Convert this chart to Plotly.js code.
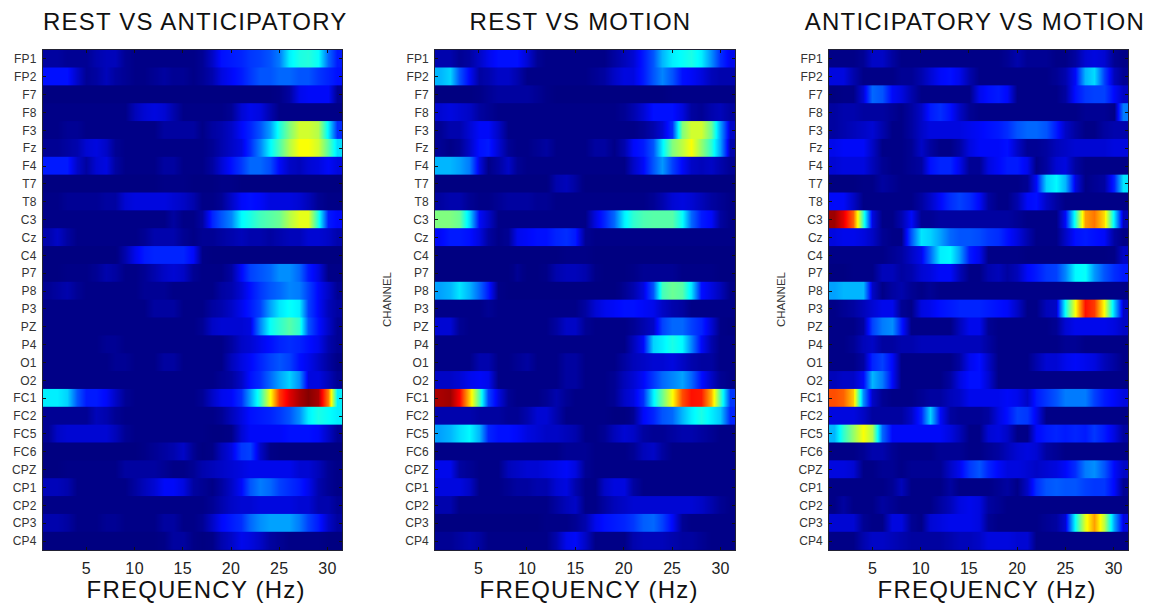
<!DOCTYPE html>
<html><head><meta charset="utf-8">
<script src="https://cdn.plot.ly/plotly-3.0.1.min.js"></script>
<style>html,body{margin:0;padding:0;background:#fff}#c{width:1151px;height:606px}
.xtick text{letter-spacing:.5px}.ytick text{letter-spacing:.2px}</style>
</head><body><div id="c"></div>
<script>
const channels=["FP1","FP2","F7","F8","F3","Fz","F4","T7","T8","C3","Cz","C4","P7","P8","P3","PZ","P4","O1","O2","FC1","FC2","FC5","FC6","CPZ","CP1","CP2","CP3","CP4"];
const frequencies=[1,2,3,4,5,6,7,8,9,10,11,12,13,14,15,16,17,18,19,20,21,22,23,24,25,26,27,28,29,30,31];
const freqTicks=[5,10,15,20,25,30];
const panelTitles=["REST VS ANTICIPATORY","REST VS MOTION","ANTICIPATORY VS MOTION"];
const restVsAnticipatory=[
[5,5,4,4,4,6,7,7,4,3,3,3,3,3,3,3,4,8,13,14,15,17,18,20,24,36,40,41,38,22,14],
[13,13,13,8,4,5,7,5,4,3,3,4,5,4,4,3,4,6,10,12,14,17,20,20,22,22,20,20,17,15,13],
[2,2,2,2,2,2,2,2,2,2,2,2,2,2,2,2,2,2,2,2,2,2,2,2,3,5,11,12,12,12,4],
[3,3,3,3,3,3,3,3,3,7,9,10,9,6,3,3,3,3,3,4,9,11,10,6,3,3,3,3,3,3,3],
[3,3,4,4,3,3,3,3,3,3,3,3,5,5,5,5,3,5,6,8,12,15,20,28,40,50,58,58,55,36,16],
[4,4,5,6,9,10,8,4,3,3,3,3,3,3,3,3,3,4,6,8,10,16,25,37,45,55,62,62,58,46,34],
[14,14,14,8,5,9,10,5,3,3,3,3,5,5,3,3,3,5,9,13,17,22,22,19,12,8,7,9,10,12,10],
[2,2,2,2,2,2,2,2,2,2,2,2,3,3,3,2,2,2,3,3,2,2,2,2,2,2,2,2,2,2,2],
[3,3,4,4,4,4,5,5,9,10,10,10,10,9,8,6,3,3,4,8,12,13,12,10,10,10,9,7,4,3,3],
[3,3,3,3,3,3,3,3,3,3,3,3,3,5,3,3,5,15,20,25,37,40,44,46,48,55,60,60,40,14,12],
[6,8,5,3,3,3,3,3,3,3,4,6,6,6,4,3,4,4,5,6,7,6,6,5,6,7,7,9,9,8,6],
[2,2,2,2,2,2,2,2,6,11,14,15,15,15,15,12,3,2,2,2,2,2,2,2,2,2,2,2,2,2,2],
[2,2,3,3,3,4,6,5,3,3,4,6,8,9,8,4,3,3,3,5,12,18,20,22,26,26,22,14,10,3,3],
[4,5,6,4,3,3,3,3,3,3,4,4,4,3,3,3,3,3,5,6,9,13,17,20,22,25,24,18,12,8,4],
[3,3,3,3,3,3,3,3,3,3,3,5,5,5,3,3,3,5,6,8,11,14,18,28,35,38,36,18,12,7,5],
[3,3,3,3,3,3,3,3,3,3,3,3,3,3,3,3,4,8,9,9,9,10,25,38,42,46,42,20,13,8,4],
[3,3,3,3,3,3,4,4,3,3,3,3,3,3,3,3,3,3,3,5,8,9,11,13,15,16,15,13,11,6,4],
[3,3,3,3,3,3,3,4,4,3,3,3,5,5,3,3,3,3,3,7,10,12,15,18,20,18,13,11,8,5,3],
[3,3,3,3,3,3,3,3,3,3,3,3,3,3,3,3,3,3,4,5,8,13,16,22,28,33,26,10,10,7,4],
[36,36,33,20,14,14,12,8,4,3,3,3,3,3,3,3,4,8,11,12,16,28,42,62,82,90,95,98,95,75,36],
[4,4,4,4,4,7,6,4,3,3,3,3,3,3,3,3,3,3,4,7,10,13,14,15,17,20,26,36,40,38,36],
[4,8,9,9,9,9,9,7,4,3,3,3,3,3,3,3,3,2,2,3,9,12,12,12,12,13,13,13,12,8,4],
[2,2,2,2,2,2,2,2,2,2,3,4,5,6,8,4,2,3,7,10,17,18,8,3,2,2,2,2,2,2,2],
[2,2,3,3,3,3,3,3,5,5,5,5,4,3,3,4,6,7,8,9,10,11,11,11,11,11,9,9,7,4,3],
[7,7,6,3,3,3,3,3,3,5,7,9,12,12,10,5,4,3,5,8,12,20,24,22,18,16,14,11,6,4,3],
[3,3,3,3,3,3,3,3,3,3,3,3,3,3,3,3,3,4,6,8,9,9,10,10,10,10,9,9,6,6,4],
[6,6,5,3,3,3,4,4,3,3,3,3,5,5,3,3,4,8,12,14,16,22,26,28,28,28,24,18,14,8,5],
[2,2,2,2,2,2,2,2,2,2,2,2,3,5,5,3,2,3,6,8,11,10,8,5,4,3,3,3,3,2,2]
];
const restVsMotion=[
[6,6,4,5,8,11,13,13,13,9,4,3,3,3,3,3,3,3,5,7,9,14,20,30,36,38,40,36,26,16,11],
[30,33,20,12,5,6,8,8,6,3,3,3,3,3,3,3,4,5,8,10,10,14,20,25,20,13,12,10,7,6,6],
[2,2,2,2,3,4,5,5,5,5,4,3,2,2,2,2,2,2,2,2,2,2,2,2,3,3,3,3,3,3,3],
[9,10,9,8,5,4,3,3,3,3,3,3,3,3,3,3,3,3,3,4,6,9,13,13,13,10,5,4,6,7,5],
[4,6,6,9,12,12,8,3,3,3,3,3,3,3,3,3,3,3,3,3,3,4,6,9,16,50,58,58,48,28,8],
[4,3,4,8,13,14,9,4,3,3,4,5,3,3,3,3,5,5,3,6,12,14,20,36,50,56,62,52,42,28,6],
[30,30,28,24,10,3,5,8,4,3,3,3,3,3,3,3,3,3,3,3,8,12,20,27,18,12,8,7,8,6,4],
[2,2,2,2,2,2,2,2,2,2,2,2,6,7,5,2,2,2,2,2,2,2,2,2,2,2,2,2,2,2,2],
[5,6,6,4,3,3,4,5,5,5,4,4,3,3,3,3,3,3,3,3,3,3,4,6,9,10,9,7,5,4,3],
[50,50,48,34,12,8,3,3,3,3,3,3,3,3,3,3,10,15,22,36,42,45,46,46,46,38,22,14,12,5,3],
[12,14,14,13,10,5,3,4,11,12,13,13,15,16,14,4,3,3,3,3,3,3,3,3,3,3,3,3,3,3,3],
[2,2,2,2,2,2,2,2,2,2,2,2,2,3,3,3,2,2,2,2,2,2,2,2,2,2,2,2,2,2,2],
[2,2,2,2,2,2,2,2,4,2,2,3,6,7,7,6,3,2,2,2,3,4,4,4,4,3,3,3,3,2,2],
[28,30,35,30,22,14,3,2,2,2,2,2,2,2,2,2,2,2,2,4,6,10,20,44,48,46,35,13,10,7,3],
[3,3,3,3,3,4,3,3,3,3,3,3,3,3,3,5,9,11,12,13,13,12,11,8,6,5,3,3,3,3,3],
[9,9,4,3,3,3,3,3,3,3,3,3,5,8,8,4,3,3,3,3,4,6,8,18,22,22,18,15,9,3,2],
[3,3,3,3,3,3,3,3,3,3,3,3,3,3,3,3,3,3,3,3,7,12,33,36,40,37,25,12,6,3,3],
[3,3,3,3,6,6,3,3,4,5,3,3,3,5,5,3,3,3,3,5,7,8,9,9,10,8,6,5,5,3,3],
[8,8,9,11,12,11,3,3,3,3,3,3,3,5,5,3,3,3,4,7,9,12,17,22,25,28,22,13,8,4,3],
[95,96,88,68,45,18,10,4,3,3,3,4,6,4,3,3,3,3,4,8,10,16,36,48,62,80,86,85,70,45,17],
[6,6,6,6,5,5,5,4,4,6,9,9,6,3,3,3,3,3,2,2,4,12,15,20,22,30,36,40,36,32,15],
[28,30,34,37,30,15,13,13,12,10,9,8,8,7,6,3,3,4,7,9,8,5,4,4,5,6,6,5,4,3,3],
[3,3,3,3,3,3,3,3,3,3,3,3,3,4,4,4,3,3,3,3,4,7,8,5,3,3,3,3,3,3,3],
[11,11,5,4,3,3,3,7,8,9,9,10,11,12,10,4,3,3,3,3,3,3,3,3,3,3,3,3,3,3,3],
[10,10,10,8,3,3,3,4,5,5,6,6,9,10,6,3,3,8,10,10,5,3,3,3,3,3,3,3,3,3,3],
[6,6,3,3,3,3,3,3,3,3,3,3,5,7,8,3,3,5,7,8,9,9,9,9,9,9,9,8,6,4,3],
[2,2,2,2,2,2,2,2,2,2,2,3,3,3,4,6,11,13,14,15,17,21,22,18,12,4,3,3,3,3,3],
[4,4,5,6,5,3,3,3,3,3,3,3,6,11,12,8,3,3,3,3,6,7,7,7,6,5,5,4,3,3,3]
];
const anticipatoryVsMotion=[
[3,3,3,4,8,8,5,3,3,3,3,3,3,3,3,3,3,3,4,6,4,4,4,3,3,5,9,10,9,4,3],
[10,10,6,3,3,3,3,4,4,6,9,12,13,11,6,3,3,3,3,3,3,3,3,4,6,12,30,34,18,7,4],
[2,3,3,9,22,20,12,10,6,3,3,3,3,3,3,11,13,14,12,3,3,3,3,3,5,13,17,18,18,12,8],
[5,6,6,5,5,5,4,3,5,8,14,16,13,8,4,3,3,3,3,3,3,3,3,3,3,3,4,4,4,3,24],
[5,6,7,8,9,6,3,3,5,8,10,10,10,10,11,12,13,14,16,20,22,22,20,14,8,5,3,3,5,6,6],
[11,12,12,12,8,3,3,3,4,8,5,3,3,5,10,12,12,12,13,8,4,4,5,7,8,9,9,9,9,10,10],
[9,10,10,10,7,4,3,3,4,5,13,15,15,11,4,4,10,12,14,14,11,3,5,9,10,5,3,3,3,3,3],
[2,2,2,3,3,5,4,3,3,3,3,3,3,3,3,3,3,3,3,3,4,12,33,37,30,10,3,4,5,15,35],
[12,12,8,3,3,3,3,3,3,5,8,12,16,18,16,12,5,3,3,6,12,13,8,5,3,3,3,3,3,3,3],
[96,90,78,42,10,3,3,6,12,4,4,5,5,5,5,5,5,5,5,4,3,3,3,3,12,40,72,76,66,35,7],
[10,11,11,10,8,4,3,3,20,35,33,28,22,20,20,19,17,16,13,10,6,3,3,3,8,13,14,13,12,5,3],
[3,3,3,3,3,3,4,5,8,11,22,36,37,28,14,11,3,3,3,3,2,2,2,2,2,2,2,2,2,3,8],
[2,2,3,3,3,7,7,5,6,9,10,12,12,7,3,3,6,7,5,7,12,14,17,18,25,37,38,27,20,16,14],
[28,30,30,30,8,3,5,6,4,3,4,3,3,3,3,3,3,3,3,3,3,3,3,3,3,3,3,3,3,3,3],
[3,4,5,7,9,11,11,4,3,10,11,13,14,15,15,15,14,13,12,8,3,3,7,8,38,62,86,82,62,32,8],
[3,3,3,5,18,24,26,14,3,3,3,3,3,7,11,11,4,3,3,3,3,3,3,4,9,11,11,11,11,10,8],
[3,3,4,7,8,5,5,6,6,7,7,7,7,7,7,7,5,3,3,3,3,3,3,3,4,4,3,3,3,3,3],
[3,3,3,5,15,18,12,3,3,3,3,3,3,5,11,13,8,3,3,3,3,6,9,9,11,12,11,10,7,5,3],
[7,8,8,12,30,24,12,3,3,3,3,3,5,10,13,13,9,3,3,3,3,3,3,3,3,3,3,3,3,3,3],
[80,78,68,26,8,4,3,3,3,4,5,5,7,8,11,11,11,11,12,11,8,14,17,20,24,24,24,18,14,12,10],
[10,10,10,8,5,5,5,5,8,15,33,12,5,4,4,4,5,10,13,18,17,11,3,3,3,3,3,3,3,3,3],
[30,42,52,62,55,22,12,12,12,12,12,12,10,7,3,3,9,10,8,3,3,12,14,15,14,15,14,17,14,10,5],
[3,3,3,4,6,6,4,3,3,3,3,4,4,4,3,3,4,5,7,9,10,9,5,4,3,3,3,3,3,3,3],
[10,10,9,3,3,4,4,3,4,4,4,4,8,11,17,20,15,12,10,10,9,8,9,10,12,16,24,26,20,12,8],
[3,3,3,3,3,3,4,7,3,3,3,3,5,3,3,3,3,4,5,3,8,16,20,21,20,20,18,17,17,12,4],
[3,5,3,3,3,5,4,3,3,3,3,5,7,10,11,10,5,4,3,3,3,3,3,3,3,3,3,3,3,3,3],
[9,9,9,4,3,3,10,10,4,3,9,10,11,11,11,10,4,3,3,3,3,3,4,5,9,38,60,72,56,28,10],
[3,3,3,6,8,8,7,6,5,5,5,5,6,7,7,8,10,10,10,9,9,3,3,3,3,3,3,3,3,3,3]
];
const matrices=[restVsAnticipatory,restVsMotion,anticipatoryVsMotion];

const jet=[[0,"rgb(0,0,118)"],[0.03,"rgb(0,0,135)"],[0.125,"rgb(0,10,255)"],[0.375,"rgb(0,255,255)"],[0.625,"rgb(255,255,0)"],[0.875,"rgb(255,0,0)"],[1,"rgb(110,0,0)"]];
const W=1151,H=606;
const panels=[[43,342],[435,735],[829,1128]];
const top0=50,bot0=550;
const rowIdx=channels.map((_,i)=>i+1);
// one heatmap per channel row: smoothed along frequency, sharp between channels
const traces=[];
matrices.forEach((m,k)=>m.forEach((row,i)=>traces.push({
  type:"heatmap",x:frequencies,y:[rowIdx[i]-0.26,rowIdx[i]+0.26],z:[row,row],name:channels[i],
  colorscale:jet,zmin:0,zmax:100,zsmooth:"best",showscale:false,
  xaxis:k?"x"+(k+1):"x",yaxis:k?"y"+(k+1):"y",
  hovertemplate:channels[i]+", %{x} Hz, %{z}<extra></extra>"
})));
const layout={width:W,height:H,margin:{l:0,r:0,t:0,b:0},paper_bgcolor:"#fff",plot_bgcolor:"#000080",
  font:{family:"Liberation Sans, Arial, sans-serif",color:"#222"},showlegend:false,annotations:[]};
panels.forEach((p,k)=>{
  const s=k?String(k+1):"";
  layout["xaxis"+s]={domain:[p[0]/W,p[1]/W],range:[0.5,31.5],anchor:"y"+s,tickmode:"array",tickvals:freqTicks,
    ticktext:freqTicks.map(String),ticks:"inside",ticklen:3,tickcolor:"#111",tickwidth:1,showline:true,linecolor:"#223",linewidth:1,mirror:"ticks",
    showgrid:false,zeroline:false,tickfont:{size:16,color:"#222"},ticklabelstandoff:4};
  layout["yaxis"+s]={domain:[1-bot0/H,1-top0/H],range:[28.5,0.5],anchor:"x"+s,tickmode:"array",tickvals:rowIdx,
    ticktext:channels,ticks:"inside",ticklen:3,tickcolor:"#111",tickwidth:1,showline:true,linecolor:"#223",linewidth:1,mirror:"ticks",
    showgrid:false,zeroline:false,tickfont:{size:12,color:"#333"},ticklabelstandoff:3};
});
const titleX=[195,580,975],xTitleX=[196,589,987];
panelTitles.forEach((t,k)=>{
  layout.annotations.push({text:t,xref:"paper",yref:"paper",x:titleX[k]/W,y:1-21/H,xanchor:"center",yanchor:"middle",showarrow:false,font:{size:24,color:"#111"}});
  layout.annotations.push({text:"FREQUENCY (Hz)",xref:"paper",yref:"paper",x:xTitleX[k]/W,y:1-589/H,xanchor:"center",yanchor:"middle",showarrow:false,font:{size:24,color:"#111"}});
});
[387,781].forEach(x=>layout.annotations.push({text:"CHANNEL",xref:"paper",yref:"paper",x:x/W,y:1-299/H,textangle:-90,xanchor:"center",yanchor:"middle",showarrow:false,font:{size:11.5,color:"#333"}}));
Plotly.newPlot("c",traces,layout,{displayModeBar:false,staticPlot:true}).then(gd=>{
  gd.querySelectorAll(".annotation-text").forEach(t=>{
    if(t.textContent!=="CHANNEL") t.style.letterSpacing="1.2px";
  });
});
</script></body></html>
